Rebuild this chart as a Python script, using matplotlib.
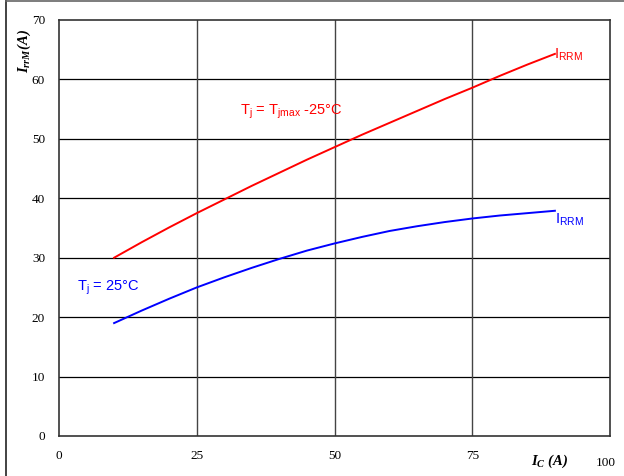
import matplotlib
matplotlib.use("Agg")
import matplotlib.pyplot as plt
from matplotlib.lines import Line2D

ic = [10, 15, 20, 25, 30, 35, 40, 45, 50, 55, 60, 65, 70, 75, 80, 85, 90]
irrm_hot = [30.0, 32.6, 35.1, 37.5, 39.8, 42.1, 44.3, 46.5, 48.6, 50.7, 52.7, 54.7, 56.7, 58.6, 60.6, 62.5, 64.3]
irrm_25 = [19.0, 21.1, 23.1, 25.0, 26.7, 28.3, 29.8, 31.2, 32.4, 33.5, 34.5, 35.3, 36.0, 36.6, 37.1, 37.5, 37.9]
xticks = [0, 25, 50, 75]
yticks = [0, 10, 20, 30, 40, 50, 60, 70]

W, H = 624, 476
fig = plt.figure(figsize=(W / 100, H / 100), dpi=100)
ax = fig.add_axes([59 / W, 1 - 436 / H, (610 - 59) / W, (436 - 20) / H])
ax.set_xlim(0, 100)
ax.set_ylim(0, 70)

serif = "Liberation Serif"
sans = "Liberation Sans"

for y in yticks[1:-1]:
    ax.axhline(y, color="black", lw=0.9, zorder=1)
for x in xticks[1:]:
    ax.axvline(x, color="#444444", lw=1.0, zorder=1)

ax.plot(ic, irrm_hot, color="#ff0000", lw=1.4, zorder=3)
ax.plot(ic, irrm_25, color="#0000ff", lw=1.4, zorder=3)

for s in ax.spines.values():
    s.set_color("#333333")
    s.set_linewidth(1.2)

ax.set_yticks(yticks)
ax.set_yticklabels([str(v) for v in yticks], fontfamily=serif, fontsize=9.5)
ax.set_xticks(xticks + [100])
ax.set_xticklabels([str(v) for v in xticks] + [""], fontfamily=serif, fontsize=9.5)
ax.tick_params(length=0, pad=10)
ax.tick_params(axis="y", pad=10)

ax.text(99.2, -4.6, "100", fontfamily=serif, fontsize=9.5, ha="center", va="center", clip_on=False)
ax.text(89, -4.2, r"I$_\mathregular{C}$ (A)", fontfamily=serif, fontsize=10.5,
        fontweight="bold", fontstyle="italic", ha="center", va="center", clip_on=False)
ax.text(-6.3, 64.8, r"I$_\mathregular{rrM}$(A)", fontfamily=serif, fontsize=10.5,
        fontweight="bold", fontstyle="italic", rotation=90, ha="center", va="center", clip_on=False)

ax.text(32.8, 54.5, r"T$_\mathregular{j}$ = T$_\mathregular{jmax}$ -25°C", color="#ff0000",
        fontfamily=sans, fontsize=10.5, ha="left", va="center")
ax.text(3.3, 25.0, r"T$_\mathregular{j}$ = 25°C", color="#0000ff",
        fontfamily=sans, fontsize=10.5, ha="left", va="center")
ax.text(89.9, 64.1, r"I$_\mathregular{RRM}$", color="#ff0000",
        fontfamily=sans, fontsize=10.5, ha="left", va="center")
ax.text(90.1, 36.4, r"I$_\mathregular{RRM}$", color="#0000ff",
        fontfamily=sans, fontsize=10.5, ha="left", va="center")

fig.add_artist(Line2D([5.5 / W, 5.5 / W], [0, 1], transform=fig.transFigure, color="#222222", lw=1.2))
fig.add_artist(Line2D([5.5 / W, 1], [1 - 1 / H, 1 - 1 / H], transform=fig.transFigure, color="#666666", lw=1.2))

fig.savefig("out.png", dpi=100)
